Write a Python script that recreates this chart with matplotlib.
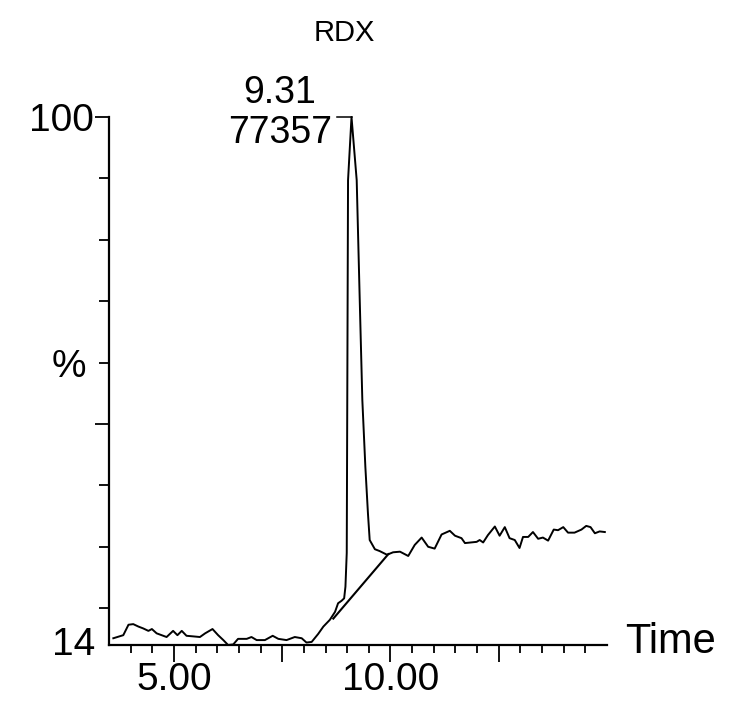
import numpy as np
import matplotlib
matplotlib.use("Agg")
import matplotlib.pyplot as plt
from matplotlib.ticker import FixedLocator, NullFormatter

plt.rcParams['font.family'] = ['Liberation Sans', 'DejaVu Sans']

# ---- data ----
title = "RDX"
time = [3.60, 3.83, 3.95, 4.06, 4.18, 4.29, 4.41, 4.49, 4.60, 4.83,
        4.98, 5.08, 5.18, 5.29, 5.45, 5.60, 5.72, 5.89, 6.02, 6.14,
        6.25, 6.37, 6.48, 6.68, 6.79, 6.91, 7.10, 7.28, 7.41, 7.60,
        7.79, 7.95, 8.06, 8.18, 8.33, 8.45, 8.60, 8.72, 8.79, 8.87,
        8.93, 8.96, 8.99, 9.02, 9.10, 9.22, 9.29, 9.35, 9.42, 9.48,
        9.52, 9.64, 9.75, 9.92, 10.06, 10.22, 10.41, 10.56, 10.72, 10.87,
        11.02, 11.18, 11.37, 11.49, 11.64, 11.72, 11.99, 12.06, 12.14, 12.25,
        12.41, 12.52, 12.64, 12.75, 12.87, 12.98, 13.06, 13.18, 13.29, 13.41,
        13.52, 13.64, 13.77, 13.87, 13.99, 14.10, 14.25, 14.41, 14.52, 14.62,
        14.72, 14.83, 14.95]
intensity = [15.1, 15.6, 17.3, 17.4, 17.0, 16.7, 16.3, 16.6, 15.9, 15.3,
             16.3, 15.6, 16.3, 15.5, 15.4, 15.3, 15.9, 16.6, 15.6, 14.8,
             14.0, 14.1, 15.0, 15.0, 15.3, 14.8, 14.8, 15.5, 15.0, 14.8,
             15.3, 15.1, 14.4, 14.5, 15.8, 17.0, 18.1, 19.4, 20.8, 21.2,
             21.6, 23.5, 29.0, 89.7, 100.0, 89.7, 70.2, 53.9, 43.0, 35.4,
             31.1, 29.6, 29.3, 28.7, 29.1, 29.2, 28.5, 30.3, 31.5, 30.0,
             29.7, 32.0, 32.6, 31.8, 31.4, 30.6, 30.8, 31.1, 30.7, 31.9,
             33.3, 31.8, 33.2, 31.4, 31.1, 29.8, 31.6, 31.6, 32.4, 31.3,
             31.5, 31.0, 32.8, 32.7, 33.2, 32.3, 32.3, 32.8, 33.4, 33.2,
             32.2, 32.5, 32.4]
baseline_time = [8.68, 9.95]
baseline_level = [18.3, 28.8]
peak_rt_label = "9.31"
peak_area_label = "77357"
peak_time = 9.10
peak_level = 100.0
leader_start = 8.76

x_range = (3.5, 15.0)
y_range = (14, 100)
x_major = [5.0, 7.5, 10.0, 12.5]
x_major_labels = ["5.00", "", "10.00", ""]
x_minor = [4.0, 4.5, 5.5, 6.0, 6.5, 7.0, 8.0, 8.5, 9.0, 9.5,
           10.5, 11.0, 11.5, 12.0, 13.0, 13.5, 14.0, 14.5]
y_major = [50, 100]
y_major_labels = ["", "100"]
y_minor = [20, 30, 40, 60, 70, 80, 90]

assert len(time) == len(intensity)

fig = plt.figure(figsize=(7.29, 7.10), dpi=100)
ax = fig.add_axes([109/729, 1 - 645/710, (607 - 109)/729, (645 - 117)/710])

ax.plot(time, intensity, color='black', lw=1.4, clip_on=False,
        solid_joinstyle='round')
ax.plot(baseline_time, baseline_level, color='black', lw=1.5, clip_on=False)
ax.plot([leader_start, peak_time], [peak_level, peak_level], color='black',
        lw=1.1, clip_on=False)

ax.set_xlim(*x_range)
ax.set_ylim(*y_range)

for s in ['top', 'right']:
    ax.spines[s].set_visible(False)
for s in ['left', 'bottom']:
    ax.spines[s].set_linewidth(1.6)

ax.xaxis.set_major_locator(FixedLocator(x_major))
ax.set_xticklabels(x_major_labels)
ax.xaxis.set_minor_locator(FixedLocator(x_minor))
ax.xaxis.set_minor_formatter(NullFormatter())
ax.yaxis.set_major_locator(FixedLocator(y_major))
ax.set_yticklabels(y_major_labels)
ax.yaxis.set_minor_locator(FixedLocator(y_minor))
ax.yaxis.set_minor_formatter(NullFormatter())

ax.tick_params(axis='x', which='major', direction='out', length=12, width=1.3,
               labelsize=28, pad=0)
ax.tick_params(axis='x', which='minor', direction='out', length=6, width=1.3)
ax.tick_params(axis='y', which='major', direction='out', length=10, width=1.3,
               labelsize=28, pad=1)
ax.tick_params(axis='y', which='minor', direction='out', length=7, width=1.3)

# bottom y label (no tick mark)
ax.annotate("14", xy=(x_range[0], y_range[0]), xycoords='data',
            xytext=(-10, 0), textcoords='offset points',
            ha='right', va='center', fontsize=28)

fig.text(344/729, 1 - 33/710, title, ha='center', va='center', fontsize=21)
fig.text(69/729, 1 - 367/710, "%", ha='center', va='center', fontsize=28)
fig.text(625/729, 1 - 653/710, "Time", ha='left', va='baseline', fontsize=30)

fig.text(280/729, 1 - 103/710, peak_rt_label, ha='center', va='baseline',
         fontsize=27)
fig.text(280/729, 1 - 143/710, peak_area_label, ha='center', va='baseline',
         fontsize=27)

fig.savefig("out.png", dpi=100)
